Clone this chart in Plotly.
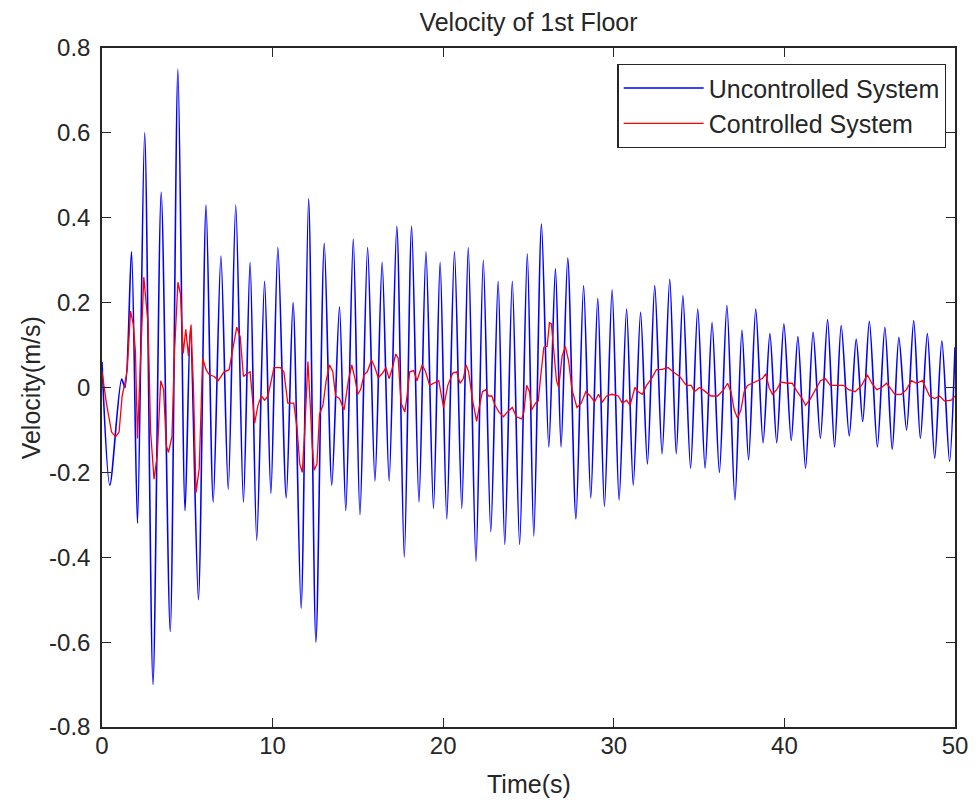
import plotly.graph_objects as go

# Uncontrolled system: successive peaks / troughs
time_unc = [0.00, 0.46, 1.15, 1.35, 1.73, 2.08, 2.50, 2.99, 3.47, 4.00, 4.45, 4.87, 5.18, 5.65,
            6.10, 6.52, 6.97, 7.40, 7.84, 8.29, 8.68, 9.07, 9.53, 9.90, 10.31, 10.80, 11.20,
            11.67, 12.11, 12.54, 13.03, 13.47, 13.92, 14.29, 14.73, 15.12, 15.57, 16.00, 16.42,
            16.83, 17.28, 17.72, 18.15, 18.58, 18.99, 19.43, 19.82, 20.21, 20.66, 21.09, 21.47,
            21.92, 22.35, 22.79, 23.22, 23.61, 24.05, 24.48, 24.93, 25.31, 25.76, 26.19, 26.58,
            26.91, 27.30, 27.78, 28.23, 28.65, 29.06, 29.45, 29.90, 30.31, 30.75, 31.14, 31.57,
            31.97, 32.40, 32.83, 33.28, 33.66, 34.05, 34.50, 34.92, 35.35, 35.76, 36.19, 36.63,
            37.10, 37.51, 37.90, 38.32, 38.75, 39.15, 39.55, 39.97, 40.40, 40.79, 41.24, 41.68,
            42.11, 42.53, 42.94, 43.33, 43.80, 44.21, 44.59, 44.98, 45.45, 45.89, 46.32, 46.71,
            47.16, 47.58, 47.97, 48.38, 48.81, 49.23, 49.68, 50.00]
vel_unc = [0.06, -0.23, 0.02, 0.00, 0.32, -0.32, 0.60, -0.70, 0.46, -0.575, 0.75, -0.29, 0.14, -0.50,
           0.43, -0.27, 0.31, -0.24, 0.43, -0.27, 0.295, -0.36, 0.25, -0.25, 0.33, -0.26, 0.20,
           -0.52, 0.445, -0.60, 0.34, -0.23, 0.19, -0.29, 0.35, -0.30, 0.33, -0.22, 0.295,
           -0.22, 0.38, -0.40, 0.38, -0.27, 0.32, -0.285, 0.295, -0.31, 0.32, -0.285, 0.33,
           -0.41, 0.30, -0.34, 0.25, -0.37, 0.25, -0.37, 0.315, -0.35, 0.385, -0.14, 0.28,
           -0.14, 0.305, -0.31, 0.24, -0.26, 0.21, -0.28, 0.23, -0.265, 0.185, -0.23, 0.177,
           -0.18, 0.24, -0.156, 0.255, -0.156, 0.216, -0.19, 0.185, -0.19, 0.153, -0.20, 0.193,
           -0.265, 0.135, -0.17, 0.185, -0.13, 0.127, -0.13, 0.15, -0.125, 0.12, -0.19, 0.13,
           -0.12, 0.16, -0.14, 0.146, -0.114, 0.114, -0.08, 0.156, -0.14, 0.142, -0.146, 0.118,
           -0.10, 0.158, -0.12, 0.127, -0.167, 0.11, -0.174, 0.095]

# Controlled system
time_ctl = [0.00, 0.27, 0.56, 0.80, 1.00, 1.18, 1.34, 1.48, 1.67, 1.83, 1.96, 2.08, 2.45, 2.70,
            2.85, 3.05, 3.24, 3.44, 3.61, 3.77, 3.90, 4.10, 4.25, 4.45, 4.60, 4.76, 4.91, 5.07,
            5.22, 5.36, 5.51, 5.70, 5.90, 6.10, 6.29, 6.58, 6.81, 7.16, 7.45, 7.65, 7.90, 8.10,
            8.29, 8.48, 8.68, 8.87, 8.95, 9.14, 9.34, 9.53, 9.73, 10.08, 10.46, 10.66, 10.89,
            11.24, 11.43, 11.59, 11.74, 11.88, 11.98, 12.07, 12.21, 12.32, 12.44, 12.60, 12.75,
            12.95, 13.14, 13.34, 13.53, 13.69, 13.92, 14.19, 14.44, 14.64, 14.83, 14.99, 15.16,
            15.36, 15.55, 15.80, 16.00, 16.19, 16.45, 16.64, 16.83, 17.03, 17.22, 17.36, 17.53,
            17.75, 17.88, 18.04, 18.27, 18.46, 18.77, 18.97, 19.20, 19.49, 19.74, 20.02, 20.27,
            20.56, 20.79, 20.99, 21.18, 21.34, 21.49, 21.72, 21.96, 22.11, 22.30, 22.50, 22.65,
            22.85, 23.04, 23.27, 23.53, 23.76, 24.05, 24.29, 24.60, 24.73, 24.89, 25.06, 25.18,
            25.41, 25.57, 25.70, 25.90, 26.09, 26.23, 26.34, 26.48, 26.64, 26.77, 26.97, 27.16,
            27.35, 27.55, 27.84, 28.09, 28.36, 28.62, 28.87, 29.10, 29.33, 29.58, 29.88, 30.27,
            30.50, 30.75, 30.95, 31.24, 31.43, 31.67, 31.92, 32.21, 32.50, 32.79, 33.18, 33.47,
            33.86, 34.25, 34.54, 34.73, 35.02, 35.31, 35.70, 36.09, 36.44, 36.67, 36.87, 37.06,
            37.25, 37.45, 37.64, 37.84, 38.13, 38.42, 38.71, 38.91, 39.10, 39.30, 39.55, 39.80,
            40.17, 40.46, 40.75, 41.04, 41.24, 41.53, 41.82, 42.11, 42.40, 42.69, 43.08, 43.47,
            43.76, 44.15, 44.53, 44.86, 45.12, 45.41, 45.70, 45.99, 46.22, 46.48, 46.86, 47.15,
            47.45, 47.74, 48.09, 48.32, 48.51, 48.81, 49.10, 49.39, 49.78, 50.00]
vel_ctl = [0.037, -0.04, -0.105, -0.116, -0.105, -0.02, 0.01, 0.042, 0.18, 0.15, 0.084, -0.12, 0.26, 0.15,
           -0.105, -0.216, -0.16, 0.016, -0.005, -0.137, -0.153, -0.116, 0.084, 0.248, 0.22, 0.08, 0.137, 0.074,
           0.148, 0.0, -0.248, -0.19, 0.069, 0.042, 0.03, 0.026, 0.016, 0.037, 0.042, 0.084, 0.142, 0.12,
           0.026, 0.032, 0.037, -0.047, -0.084, -0.042, -0.02, -0.03, -0.02, 0.047, 0.047, 0.037, -0.037,
           -0.037, -0.095, -0.18, -0.2, -0.105, 0.0, 0.061, -0.042, -0.137, -0.195, -0.18, -0.063,
           -0.042, 0.016, 0.053, 0.037, -0.02, -0.026, -0.053, 0.016, 0.053, 0.021, -0.016, -0.005,
           0.03, 0.037, 0.065, 0.047, 0.023, 0.034, 0.047, 0.021, 0.047, 0.079, 0.069, -0.037,
           -0.058, -0.02, 0.037, 0.04, 0.016, 0.053, 0.037, 0.005, 0.01, 0.016, -0.047, 0.005,
           0.034, 0.037, 0.01, 0.021, 0.053, 0.037, -0.03, -0.08, -0.047, -0.01, -0.005, -0.02,
           -0.02, -0.042, -0.058, -0.069, -0.058, -0.047, -0.069, -0.074, -0.058, 0.005, -0.01, -0.053,
           -0.037, -0.032, 0.021, 0.095, 0.097, 0.153, 0.15, 0.095, 0.016, 0.0, 0.074, 0.097,
           0.063, -0.005, -0.047, -0.037, -0.01, -0.02, -0.034, -0.016, -0.034, -0.02, -0.016, -0.02,
           -0.037, -0.03, -0.042, 0.0, -0.01, -0.016, 0.005, 0.021, 0.042, 0.042, 0.047, 0.037,
           0.026, 0.005, 0.005, -0.01, 0.0, -0.008, -0.02, -0.02, -0.005, 0.01, -0.01, -0.053,
           -0.072, -0.053, -0.01, 0.005, 0.01, 0.016, 0.021, 0.032, 0.0, -0.016, -0.005, 0.013,
           0.01, 0.01, -0.01, -0.026, -0.042, -0.026, -0.005, 0.016, 0.021, 0.005, 0.005, 0.005,
           -0.005, -0.01, 0.005, 0.03, 0.01, -0.005, 0.0, 0.01, -0.002, -0.016, -0.016, -0.005,
           0.016, 0.01, 0.016, -0.005, -0.02, -0.026, -0.02, -0.032, -0.03, -0.02]

x_ticks = [0, 10, 20, 30, 40, 50]
y_ticks = [-0.8, -0.6, -0.4, -0.2, 0, 0.2, 0.4, 0.6, 0.8]
y_tick_labels = ["-0.8", "-0.6", "-0.4", "-0.2", "0", "0.2", "0.4", "0.6", "0.8"]

FONT = "Liberation Sans, Arial, sans-serif"
AXC = "#262626"

fig = go.Figure()
fig.add_trace(go.Scatter(x=time_unc, y=vel_unc, mode="lines", name="Uncontrolled System",
                         line=dict(color="#0000FF", width=1.6, shape="spline", smoothing=0.8)))
fig.add_trace(go.Scatter(x=time_ctl, y=vel_ctl, mode="lines", name="Controlled System",
                         line=dict(color="#FF0000", width=1.3)))

axis_common = dict(showline=True, linecolor=AXC, linewidth=1.5, mirror="ticks",
                   ticks="inside", ticklen=9, tickwidth=1.2, tickcolor=AXC,
                   showgrid=False, zeroline=False,
                   tickfont=dict(family=FONT, size=24, color="#262626"))

# The page places the figure 8 px from the top-left corner; the figure is sized
# so that it (with the page margin) fits the 980x807 window without scrollbars.
fig.update_layout(
    width=972, height=791,
    margin=dict(l=94, r=15, t=40, b=72),
    paper_bgcolor="white", plot_bgcolor="white",
    title=dict(text="Velocity of 1st Floor", x=0.5, xref="paper", y=1 - 14 / 791,
               yref="container", xanchor="center", yanchor="middle",
               font=dict(family=FONT, size=25, color="#262626")),
    xaxis=dict(range=[0, 50], tickvals=x_ticks, ticklabelstandoff=-4, **axis_common),
    yaxis=dict(range=[-0.8, 0.8], tickvals=y_ticks, ticktext=y_tick_labels,
               ticklabelstandoff=5, **axis_common),
    legend=dict(x=0.99, y=(727 - 64) / 679, xanchor="right", yanchor="top",
                bgcolor="white", bordercolor=AXC, borderwidth=1.2, itemwidth=80,
                font=dict(family=FONT, size=25, color="#262626"), tracegroupgap=0),
    showlegend=True,
    annotations=[
        dict(text="Time(s)", x=0.5, y=(727 - 784) / 679, xref="paper", yref="paper",
             showarrow=False, xanchor="center", yanchor="middle",
             font=dict(family=FONT, size=25, color="#262626")),
        dict(text="Velocity(m/s)", x=(30 - 102) / 863, y=0.5, xref="paper", yref="paper",
             showarrow=False, xanchor="center", yanchor="middle", textangle=-90,
             font=dict(family=FONT, size=25, color="#262626")),
    ],
)

fig.write_html("out.html")
